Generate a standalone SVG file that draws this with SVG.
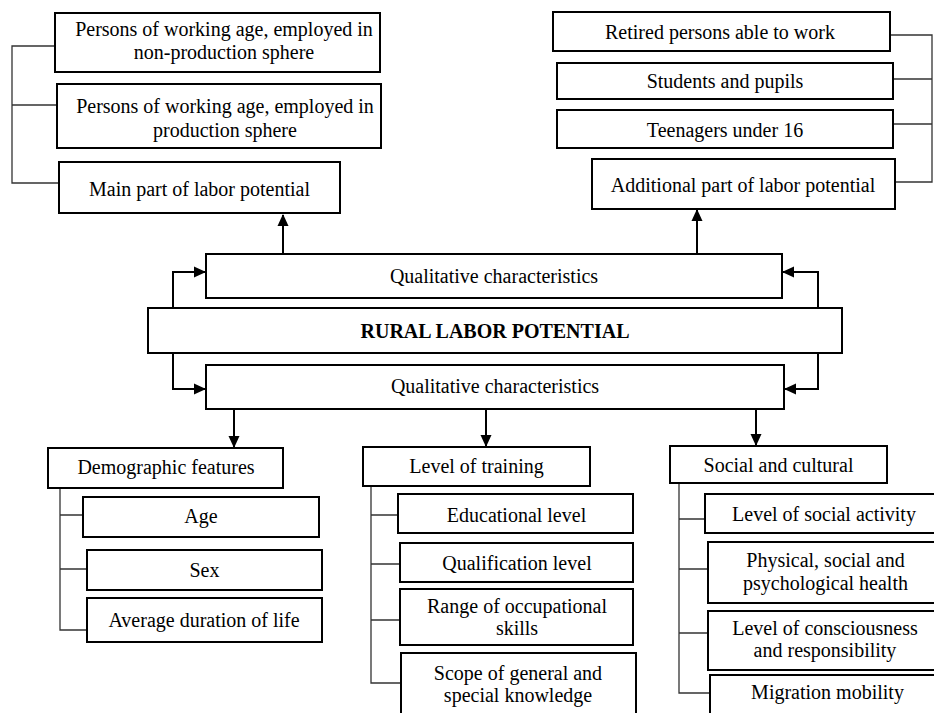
<svg xmlns="http://www.w3.org/2000/svg" width="934" height="713" viewBox="0 0 934 713">
<style>
  .box { fill: #ffffff; stroke: #000000; stroke-width: 2; }
  .t { font-family: "Liberation Serif", "Times New Roman", serif; font-size: 20px; fill: #000000; text-anchor: middle; }
  .b { font-weight: bold; }
  .br { fill: none; stroke: #333333; stroke-width: 1.3; }
  .ar { fill: none; stroke: #000000; stroke-width: 2; }
</style>
<defs>
  <marker id="ah" markerUnits="userSpaceOnUse" markerWidth="12" markerHeight="12" viewBox="0 0 12 12" refX="11" refY="6" orient="auto">
    <path d="M0,0.5 L12,6 L0,11.5 Z" fill="#000000"/>
  </marker>
</defs>
<rect width="934" height="713" fill="#ffffff"/>

<g id="connectors">
  <!-- brackets -->
  <path class="br" d="M55,46 H12 V183 H59 M12,105 H57"/>
  <path class="br" d="M890,35 H932 V182 H895 M893,79 H932 M893,124 H932"/>
  <path class="br" d="M60,488 V630 H87 M60,515 H83 M60,569 H87"/>
  <path class="br" d="M371,486 V683 H401 M371,515 H398 M371,564 H400 M371,620 H400"/>
  <path class="br" d="M679,483 V693 H710 M679,519 H705 M679,569 H708 M679,633 H708"/>
  <!-- arrows -->
  <path class="ar" d="M283,254 V215" marker-end="url(#ah)"/>
  <path class="ar" d="M697,254 V210" marker-end="url(#ah)"/>
  <path class="ar" d="M173,308 V272 H205" marker-end="url(#ah)"/>
  <path class="ar" d="M173,353 V389 H205" marker-end="url(#ah)"/>
  <path class="ar" d="M818,308 V272 H783" marker-end="url(#ah)"/>
  <path class="ar" d="M818,353 V389 H785" marker-end="url(#ah)"/>
  <path class="ar" d="M234,409 V447" marker-end="url(#ah)"/>
  <path class="ar" d="M486,409 V446" marker-end="url(#ah)"/>
  <path class="ar" d="M756,409 V445" marker-end="url(#ah)"/>
</g>

<g id="n-nonprod">
  <rect class="box" x="55" y="13" width="325" height="59"/>
  <text class="t" x="224" y="36">Persons of working age, employed in</text>
  <text class="t" x="224" y="59">non-production sphere</text>
</g>
<g id="n-prod">
  <rect class="box" x="57" y="84" width="324" height="64"/>
  <text class="t" x="225" y="113">Persons of working age, employed in</text>
  <text class="t" x="225" y="137">production sphere</text>
</g>
<g id="n-main">
  <rect class="box" x="59" y="162" width="281" height="51"/>
  <text class="t" x="199.5" y="196">Main part of labor potential</text>
</g>

<g id="n-retired">
  <rect class="box" x="553" y="12" width="337" height="39"/>
  <text class="t" x="720" y="39">Retired persons able to work</text>
</g>
<g id="n-students">
  <rect class="box" x="557" y="63" width="336" height="36"/>
  <text class="t" x="725" y="88">Students and pupils</text>
</g>
<g id="n-teen">
  <rect class="box" x="557" y="110" width="336" height="38"/>
  <text class="t" x="725" y="137">Teenagers under 16</text>
</g>
<g id="n-additional">
  <rect class="box" x="592" y="159" width="303" height="50"/>
  <text class="t" x="743" y="192">Additional part of labor potential</text>
</g>

<g id="n-qual-top">
  <rect class="box" x="206" y="254" width="576" height="44"/>
  <text class="t" x="494" y="283">Qualitative characteristics</text>
</g>
<g id="n-rural">
  <rect class="box" x="148" y="308" width="694" height="45"/>
  <text class="t b" x="495" y="338">RURAL LABOR POTENTIAL</text>
</g>
<g id="n-qual-bottom">
  <rect class="box" x="206" y="365" width="578" height="44"/>
  <text class="t" x="495" y="393">Qualitative characteristics</text>
</g>

<g id="n-demographic">
  <rect class="box" x="48" y="448" width="235" height="40"/>
  <text class="t" x="166" y="474">Demographic features</text>
</g>
<g id="n-age">
  <rect class="box" x="83" y="497" width="236" height="40"/>
  <text class="t" x="201" y="523">Age</text>
</g>
<g id="n-sex">
  <rect class="box" x="87" y="550" width="235" height="40"/>
  <text class="t" x="204.5" y="577">Sex</text>
</g>
<g id="n-life">
  <rect class="box" x="87" y="598" width="235" height="44"/>
  <text class="t" x="204" y="627">Average duration of life</text>
</g>

<g id="n-training">
  <rect class="box" x="363" y="447" width="227" height="39"/>
  <text class="t" x="476.5" y="473">Level of training</text>
</g>
<g id="n-education">
  <rect class="box" x="398" y="494" width="235" height="39"/>
  <text class="t" x="516.5" y="522">Educational level</text>
</g>
<g id="n-qualification">
  <rect class="box" x="400" y="543" width="233" height="39"/>
  <text class="t" x="517" y="570">Qualification level</text>
</g>
<g id="n-range">
  <rect class="box" x="400" y="589" width="233" height="56"/>
  <text class="t" x="517" y="613">Range of occupational</text>
  <text class="t" x="517" y="635">skills</text>
</g>
<g id="n-scope">
  <rect class="box" x="401" y="653" width="235" height="70"/>
  <text class="t" x="518" y="680">Scope of general and</text>
  <text class="t" x="518" y="702">special knowledge</text>
</g>

<g id="n-social">
  <rect class="box" x="670" y="446" width="217" height="37"/>
  <text class="t" x="778.5" y="472">Social and cultural</text>
</g>
<g id="n-activity">
  <rect class="box" x="705" y="494" width="238" height="39"/>
  <text class="t" x="824" y="521">Level of social activity</text>
</g>
<g id="n-health">
  <rect class="box" x="708" y="542" width="238" height="61"/>
  <text class="t" x="825.5" y="567">Physical, social and</text>
  <text class="t" x="825.5" y="590">psychological health</text>
</g>
<g id="n-consciousness">
  <rect class="box" x="708" y="611" width="238" height="59"/>
  <text class="t" x="825" y="635">Level of consciousness</text>
  <text class="t" x="825" y="657">and responsibility</text>
</g>
<g id="n-migration">
  <rect class="box" x="710" y="675" width="238" height="50"/>
  <text class="t" x="827.5" y="699">Migration mobility</text>
</g>
</svg>
